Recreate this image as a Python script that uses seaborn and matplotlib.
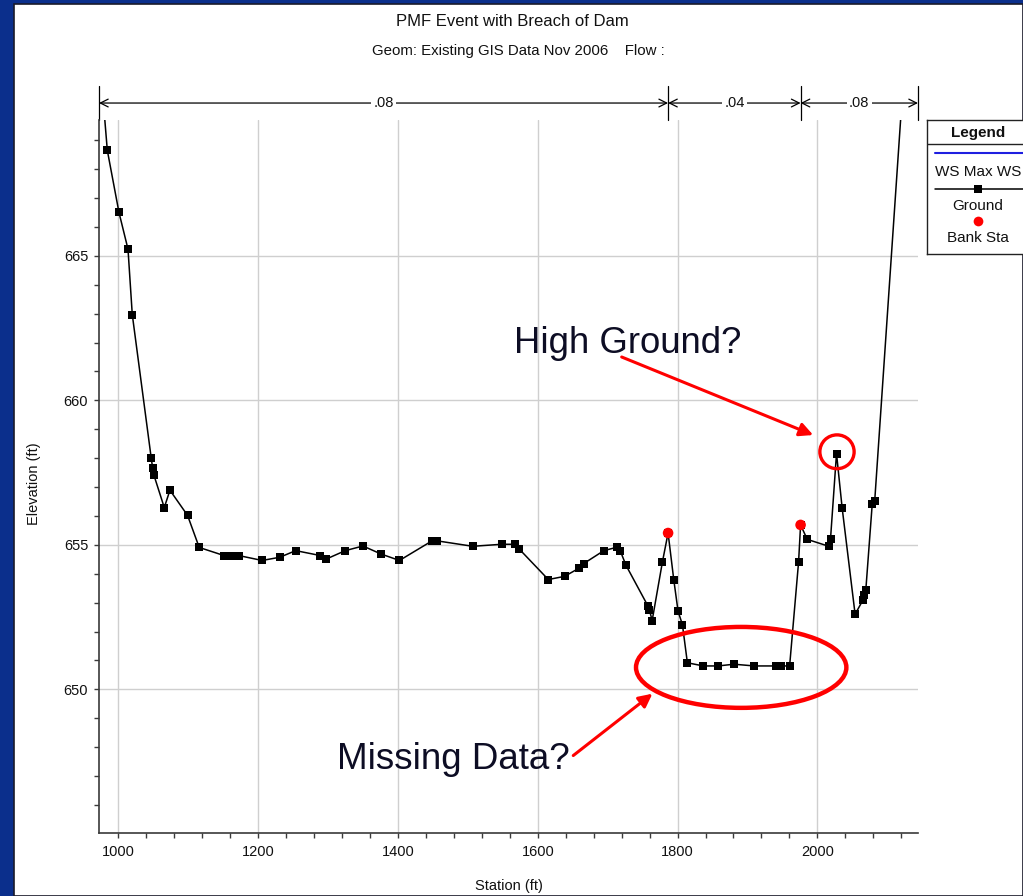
import numpy as np
import pandas as pd
import matplotlib
matplotlib.use("Agg")
import matplotlib.pyplot as plt
import matplotlib.transforms as mtransforms
from matplotlib.patches import Ellipse, Rectangle
import seaborn as sns

# ---------------- data ----------------
station = [976, 984, 1000.7, 1013.6, 1019.7, 1046.9, 1048.8, 1050.7, 1065.5, 1073.6,
           1098.8, 1115.5, 1151, 1161.7, 1172, 1205.5, 1230.7, 1253.6, 1288.8, 1297.4,
           1324.5, 1349.8, 1376, 1402, 1448.8, 1455.4, 1506.9, 1548.3, 1567.4, 1573.6,
           1615, 1638.3, 1658.8, 1665.5, 1694.5, 1713.6, 1717.9, 1726, 1757.9, 1759.7,
           1763.6, 1778.3, 1786.4, 1794.5, 1800.7, 1806.9, 1814, 1836.9, 1857.9, 1880.7,
           1909.8, 1941.2, 1947.4, 1960.3, 1973.1, 1976, 1985.5, 2016.4, 2018.8, 2027.4,
           2035.4, 2054, 2065, 2066.9, 2069.3, 2078.5, 2082, 2134]
elevation = [671.0, 668.65, 666.5, 665.23, 662.97, 657.99, 657.67, 657.41, 656.29, 656.89,
             656.02, 654.91, 654.63, 654.63, 654.63, 654.46, 654.57, 654.80, 654.63, 654.51,
             654.80, 654.96, 654.68, 654.46, 655.14, 655.14, 654.95, 655.02, 655.02, 654.85,
             653.80, 653.91, 654.19, 654.35, 654.80, 654.92, 654.80, 654.30, 652.87, 652.75,
             652.38, 654.41, 655.41, 653.80, 652.70, 652.24, 650.92, 650.81, 650.81, 650.87,
             650.81, 650.81, 650.81, 650.81, 654.40, 655.69, 655.19, 654.95, 655.20, 658.16,
             656.29, 652.60, 653.08, 653.26, 653.43, 656.41, 656.50, 675.0]
bank_station = [1786.4, 1976]
bank_elevation = [655.41, 655.69]
mannings_n = [".08", ".04", ".08"]

x_ticks = [1000, 1200, 1400, 1600, 1800, 2000]
y_ticks = [650, 655, 660, 665]
x_range = (972.1, 2144)
y_range = (645.03, 669.70)

title = "PMF Event with Breach of Dam"
subtitle = "Geom: Existing GIS Data Nov 2006    Flow :"

ground = pd.DataFrame({"Station": station, "Elevation": elevation})
banks = pd.DataFrame({"Station": bank_station, "Elevation": bank_elevation})

# ---------------- style ----------------
sns.set_theme(style="white")
plt.rcParams["font.family"] = ["Liberation Sans", "DejaVu Sans"]

W, H = 1023, 896
fig = plt.figure(figsize=(W / 100, H / 100), dpi=100)
fig.patch.set_facecolor("#0b2f8c")
fig.patches.append(Rectangle((14 / W, 0), 1 - 14 / W, 1 - 4 / H, transform=fig.transFigure,
                             facecolor="white", edgecolor="#1a1a2a", linewidth=1.2,
                             zorder=-10))

ax = fig.add_axes([99 / W, 1 - 833 / H, (918 - 99) / W, (833 - 120) / H])
ax.set_facecolor("none")

sns.lineplot(data=ground, x="Station", y="Elevation", ax=ax, sort=False, color="black",
             linewidth=1.1, marker="s", markersize=5.2, markeredgewidth=0,
             markerfacecolor="black", zorder=3)
sns.scatterplot(data=banks, x="Station", y="Elevation", ax=ax, color="red", s=58,
                edgecolor="none", zorder=6)

ax.set_xlim(*x_range)
ax.set_ylim(*y_range)
ax.set_xticks(x_ticks)
ax.set_yticks(y_ticks)
ax.set_xticks(np.arange(1040, 2144, 40), minor=True)
ax.set_yticks(np.arange(646, 670, 1), minor=True)
ax.grid(True, which="major", color="#cfcfcf", linewidth=1.0)
for s in ["top", "right"]:
    ax.spines[s].set_visible(False)
for s in ["left", "bottom"]:
    ax.spines[s].set_color("#3a3a3a")
    ax.spines[s].set_linewidth(1.2)
ax.tick_params(which="major", direction="out", length=3.8, width=1, color="#3a3a3a",
               labelsize=10.5, labelcolor="#111111", left=True, bottom=True, pad=5)
ax.tick_params(which="minor", direction="out", length=3.8, width=1, color="#3a3a3a",
               left=True, bottom=True)
ax.tick_params(axis="y", which="major", pad=4)
ax.set_xlabel("Station (ft)", fontsize=10.5, color="#111111")
ax.set_ylabel("Elevation (ft)", fontsize=10.5, color="#111111")
ax.xaxis.set_label_coords(0.5, -0.064)
ax.yaxis.set_label_coords(-0.071, 0.49)

# ---------------- Manning's n bars ----------------
trans = mtransforms.blended_transform_factory(ax.transData, ax.transAxes)
n_edges = [x_range[0], bank_station[0], bank_station[1], x_range[1]]
y_bar = 1.0238
for xe in n_edges:
    ax.plot([xe, xe], [1.0, 1.0477], transform=trans, color="black", lw=0.9, clip_on=False)
for i, lab in enumerate(mannings_n):
    x0, x1 = n_edges[i], n_edges[i + 1]
    ax.annotate("", xy=(x1, y_bar), xytext=(x0, y_bar), xycoords=trans, textcoords=trans,
                arrowprops=dict(arrowstyle="<->", lw=0.9, color="black",
                                shrinkA=0, shrinkB=0, mutation_scale=14),
                annotation_clip=False)
    ax.text((x0 + x1) / 2, y_bar, lab, transform=trans, ha="center", va="center",
            fontsize=10.5, color="#111111",
            bbox=dict(facecolor="white", edgecolor="none", pad=1.5), clip_on=False)

# ---------------- titles ----------------
fig.text(512 / W, 1 - 22 / H, title, ha="center", va="center", fontsize=12, color="#111111")
fig.text(518 / W, 1 - 51 / H, subtitle, ha="center", va="center", fontsize=10.8,
         color="#111111")

# ---------------- slide annotations ----------------
txt_col = "#0d0d24"
ax.text(1728.6, 661.95, "High Ground?", fontsize=26.3, color=txt_col, ha="center",
        va="center")
ax.text(1479, 647.58, "Missing Data?", fontsize=26.5, color=txt_col, ha="center",
        va="center")
ax.annotate("", xy=(1994, 658.8), xytext=(1720, 661.5),
            arrowprops=dict(arrowstyle="-|>", color="red", lw=2.2, mutation_scale=20,
                            shrinkA=0, shrinkB=0))
ax.annotate("", xy=(1764, 649.85), xytext=(1650.7, 647.71),
            arrowprops=dict(arrowstyle="-|>", color="red", lw=2.2, mutation_scale=20,
                            shrinkA=0, shrinkB=0))
ax.add_patch(Ellipse((1891, 650.76), 301, 2.8, fill=False, edgecolor="red", lw=3.2,
                     zorder=5))
ax.add_patch(Ellipse((2028.1, 658.22), 49, 1.17, fill=False, edgecolor="red", lw=2.4,
                     zorder=5))

# ---------------- HEC-RAS style legend ----------------
lax = fig.add_axes([927 / W, 1 - 254 / H, 115 / W, (254 - 120) / H])
lax.set_xlim(927, 1042)
lax.set_ylim(254, 120)
lax.set_xticks([])
lax.set_yticks([])
lax.set_facecolor("white")
for s in lax.spines.values():
    s.set_color("#222222")
    s.set_linewidth(1.0)
lax.text(978, 132.5, "Legend", ha="center", va="center", fontsize=11, fontweight="bold",
         color="#111111")
lax.plot([927, 1042], [144, 144], color="#222222", lw=1.0)
lax.plot([935, 1042], [153, 153], color="#1f1fe0", lw=1.5)
lax.text(978, 171.5, "WS Max WS", ha="center", va="center", fontsize=11, color="#111111")
lax.plot([935, 1042], [189, 189], color="black", lw=1.1)
lax.plot([978], [189], marker="s", color="black", markersize=5.2, markeredgewidth=0)
lax.text(978, 205.5, "Ground", ha="center", va="center", fontsize=11, color="#111111")
lax.plot([978], [221.5], marker="o", color="red", markersize=7, markeredgewidth=0)
lax.text(978, 238, "Bank Sta", ha="center", va="center", fontsize=11, color="#111111")

fig.savefig("out.png", dpi=100, facecolor=fig.get_facecolor())
